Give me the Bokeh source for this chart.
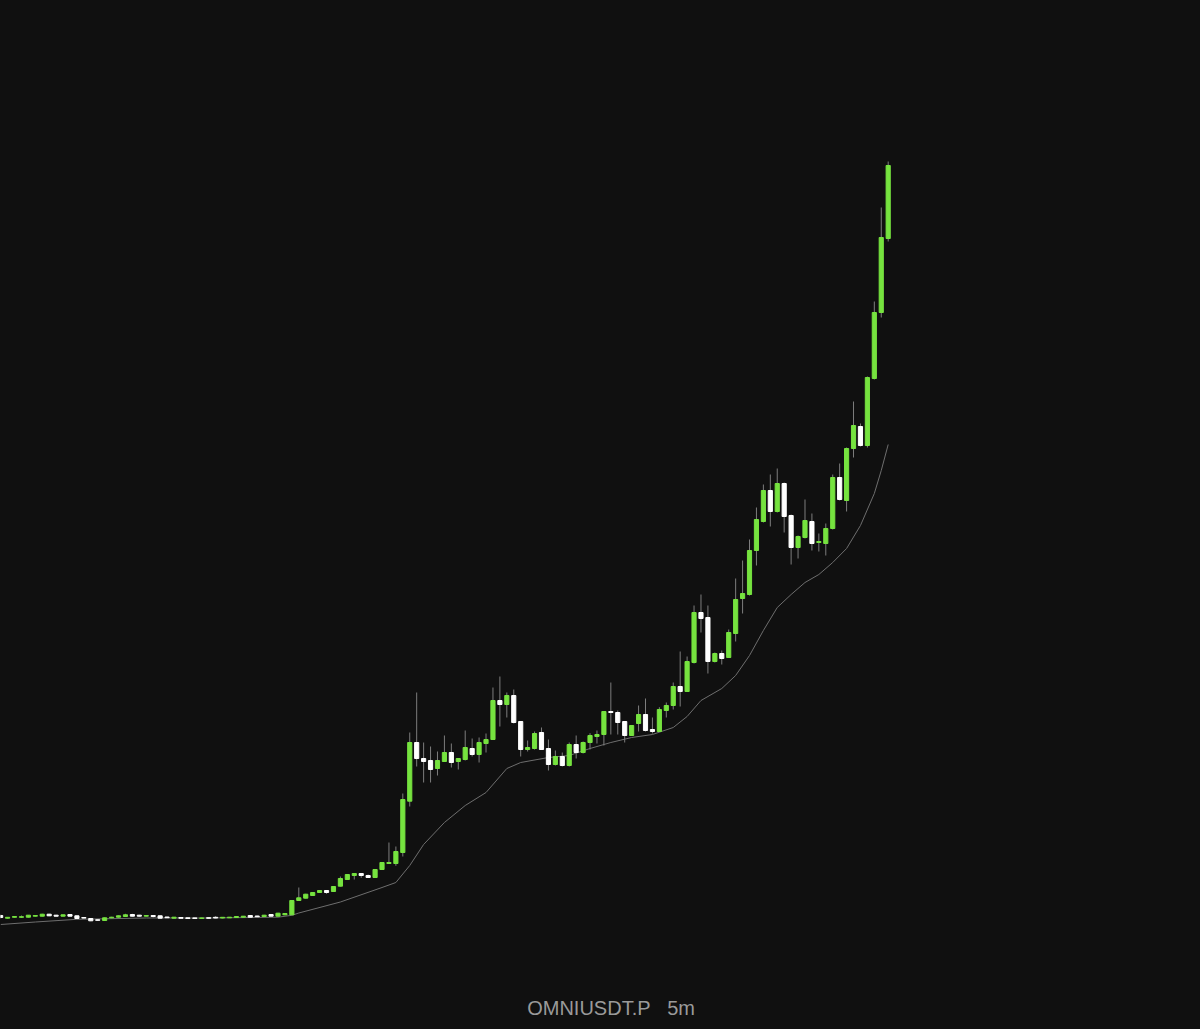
from bokeh.plotting import figure
from bokeh.models import ColumnDataSource, Range1d, Label
from bokeh.embed import file_html
from bokeh.resources import INLINE

symbol = "OMNIUSDT.P"
interval = "5m"

opens = [0.85, 0.823, 0.832, 0.832, 0.833, 0.843, 0.843, 0.863, 0.853, 0.843,
         0.86, 0.847, 0.83, 0.82, 0.807, 0.80, 0.827, 0.833, 0.84, 0.86,
         0.853, 0.843, 0.85, 0.847, 0.835, 0.823, 0.83, 0.827, 0.826, 0.821,
         0.828, 0.832, 0.825, 0.827, 0.83, 0.833, 0.85, 0.845, 0.84, 0.86,
         0.843, 0.857, 0.857, 1.00, 1.023, 1.05, 1.08, 1.10, 1.09, 1.143,
         1.21, 1.25, 1.27, 1.25, 1.23, 1.31, 1.37, 1.37, 1.48, 1.993,
         2.58, 2.42, 2.40, 2.32, 2.39, 2.48, 2.39, 2.41, 2.52, 2.46,
         2.57, 2.61, 3.00, 2.96, 3.05, 2.79, 2.51, 2.52, 2.68, 2.52,
         2.36, 2.44, 2.35, 2.56, 2.48, 2.58, 2.64, 2.66, 2.89, 2.88,
         2.79, 2.65, 2.77, 2.86, 2.71, 2.69, 2.90, 2.95, 3.14, 3.09,
         3.38, 3.88, 3.83, 3.39, 3.47, 3.43, 3.67, 4.02, 4.06, 4.50,
         4.79, 5.10, 4.89, 5.17, 4.85, 4.53, 4.63, 4.79, 4.58, 4.57,
         4.72, 5.23, 5.00, 5.52, 5.74, 5.55, 6.22, 6.88, 7.62]
highs = [0.86, 0.835, 0.845, 0.85, 0.855, 0.855, 0.867, 0.867, 0.857, 0.86,
         0.863, 0.85, 0.833, 0.823, 0.81, 0.83, 0.837, 0.85, 0.867, 0.867,
         0.857, 0.853, 0.853, 0.85, 0.837, 0.835, 0.832, 0.83, 0.828, 0.828,
         0.83, 0.843, 0.834, 0.835, 0.843, 0.845, 0.853, 0.848, 0.857, 0.863,
         0.877, 0.873, 1.005, 1.13, 1.067, 1.085, 1.103, 1.103, 1.145, 1.24,
         1.265, 1.273, 1.273, 1.26, 1.313, 1.383, 1.58, 1.54, 2.07, 2.68,
         3.08, 2.58, 2.54, 2.49, 2.65, 2.57, 2.425, 2.70, 2.62, 2.63,
         2.67, 3.13, 3.24, 3.08, 3.11, 2.795, 2.60, 2.69, 2.73, 2.61,
         2.50, 2.48, 2.58, 2.65, 2.59, 2.673, 2.70, 2.895, 3.18, 2.90,
         2.795, 2.755, 2.95, 3.02, 2.83, 2.933, 2.98, 3.18, 3.49, 3.44,
         3.95, 4.06, 3.95, 3.48, 3.50, 3.71, 4.22, 4.40, 4.61, 4.93,
         5.16, 5.26, 5.32, 5.18, 4.86, 4.65, 5.01, 4.87, 4.67, 4.77,
         5.26, 5.37, 5.53, 5.99, 5.77, 6.24, 6.99, 7.93, 8.39]
lows = [0.82, 0.82, 0.83, 0.825, 0.83, 0.84, 0.84, 0.843, 0.84, 0.84,
        0.84, 0.817, 0.82, 0.793, 0.797, 0.797, 0.823, 0.83, 0.837, 0.84,
        0.84, 0.84, 0.83, 0.82, 0.825, 0.82, 0.82, 0.817, 0.818, 0.818,
        0.82, 0.822, 0.822, 0.825, 0.827, 0.83, 0.83, 0.835, 0.837, 0.84,
        0.84, 0.853, 0.853, 0.995, 1.02, 1.045, 1.077, 1.067, 1.087, 1.14,
        1.207, 1.21, 1.227, 1.227, 1.227, 1.307, 1.367, 1.347, 1.44, 1.94,
        2.34, 2.18, 2.18, 2.25, 2.385, 2.33, 2.31, 2.40, 2.44, 2.38,
        2.48, 2.605, 2.74, 2.83, 2.77, 2.44, 2.49, 2.51, 2.505, 2.30,
        2.35, 2.34, 2.34, 2.42, 2.47, 2.51, 2.57, 2.55, 2.66, 2.66,
        2.58, 2.645, 2.69, 2.69, 2.67, 2.685, 2.83, 2.91, 2.94, 3.085,
        3.37, 3.68, 3.27, 3.38, 3.36, 3.425, 3.59, 3.87, 4.05, 4.35,
        4.78, 4.74, 4.88, 4.68, 4.36, 4.42, 4.62, 4.50, 4.49, 4.45,
        4.71, 5.00, 4.89, 5.43, 5.54, 5.53, 6.21, 6.83, 7.59]
closes = [0.83, 0.832, 0.84, 0.838, 0.853, 0.85, 0.863, 0.847, 0.843, 0.857,
          0.843, 0.82, 0.824, 0.797, 0.802, 0.827, 0.833, 0.847, 0.857, 0.843,
          0.843, 0.85, 0.84, 0.823, 0.828, 0.833, 0.822, 0.82, 0.821, 0.826,
          0.822, 0.825, 0.832, 0.833, 0.84, 0.843, 0.833, 0.838, 0.853, 0.843,
          0.873, 0.87, 1.00, 1.027, 1.063, 1.08, 1.10, 1.08, 1.14, 1.22,
          1.26, 1.27, 1.25, 1.23, 1.31, 1.38, 1.38, 1.49, 2.01, 2.58,
          2.42, 2.39, 2.31, 2.40, 2.48, 2.38, 2.42, 2.53, 2.46, 2.58,
          2.61, 3.00, 2.96, 3.05, 2.78, 2.51, 2.53, 2.67, 2.51, 2.36,
          2.44, 2.35, 2.56, 2.48, 2.58, 2.65, 2.66, 2.89, 2.88, 2.78,
          2.65, 2.75, 2.86, 2.70, 2.69, 2.91, 2.95, 3.14, 3.09, 3.39,
          3.88, 3.82, 3.39, 3.47, 3.42, 3.68, 4.01, 4.07, 4.50, 4.81,
          5.10, 4.89, 5.17, 4.84, 4.53, 4.64, 4.80, 4.57, 4.59, 4.72,
          5.23, 5.01, 5.52, 5.75, 5.55, 6.23, 6.88, 7.63, 8.35]

ma_index = [0, 5, 11, 21, 30, 40, 42, 43, 49, 55, 57, 59, 61, 64, 67, 70, 73, 75,
            79, 82, 85, 88, 91, 94, 97, 99, 101, 104, 106, 108, 110, 112, 114,
            116, 118, 120, 122, 124, 126, 127, 128]
ma_values = [0.76, 0.785, 0.812, 0.825, 0.825, 0.833, 0.852, 0.875, 0.985, 1.13,
             1.18, 1.35, 1.56, 1.78, 1.95, 2.08, 2.32, 2.38, 2.43, 2.45, 2.52,
             2.58, 2.63, 2.66, 2.73, 2.84, 3.00, 3.12, 3.25, 3.45, 3.70, 3.93,
             4.06, 4.18, 4.26, 4.38, 4.52, 4.75, 5.07, 5.30, 5.56]

BG = "#101010"
UP = "#76e33f"
DOWN = "#ffffff"
WICK = "#7d7d7d"

n = len(opens)
idx = list(range(n))
up = [c >= o for o, c in zip(opens, closes)]
src = ColumnDataSource(dict(
    x=idx,
    high=highs,
    low=lows,
    top=[max(o, c) for o, c in zip(opens, closes)],
    bottom=[min(o, c) for o, c in zip(opens, closes)],
    color=[UP if u else DOWN for u in up],
))

p = figure(width=1200, height=1029, output_backend="svg", toolbar_location=None,
           x_range=Range1d(-0.0202, 173.04), y_range=Range1d(-0.29, 10.0),
           min_border=0, background_fill_color=BG, border_fill_color=BG,
           outline_line_color=None)
p.axis.visible = False
p.grid.visible = False

p.line(ma_index, ma_values, line_color="#6e6e6e", line_width=1)
p.segment(x0="x", y0="high", x1="x", y1="low", source=src, line_color=WICK, line_width=1)
p.vbar(x="x", top="top", bottom="bottom", width=0.6, source=src,
       fill_color="color", line_color="color", line_width=1)

p.add_layout(Label(x=75.94, y=-0.07, text=symbol, text_font="Liberation Sans",
                   text_font_size="20px", text_color="#9a9a9a", text_baseline="middle",
                   text_align="left"))
p.add_layout(Label(x=96.13, y=-0.07, text=interval, text_font="Liberation Sans",
                   text_font_size="20px", text_color="#9a9a9a", text_baseline="middle",
                   text_align="left"))

html = file_html(p, INLINE)
html = html.replace("<head>", "<head><style>html,body{background:#101010;}</style>", 1)
open("out.html", "w").write(html)
